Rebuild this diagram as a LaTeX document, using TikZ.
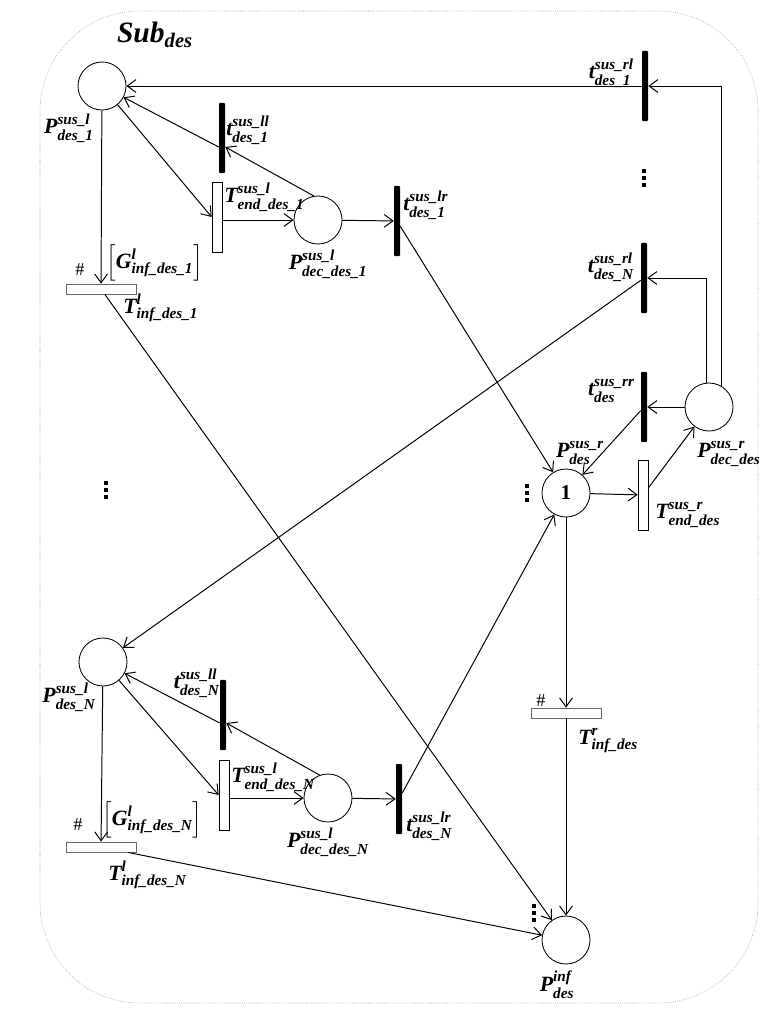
\documentclass[tikz,border=0pt]{standalone}
\usepackage{amsmath}
\usepackage{fontspec}
\setmainfont{Liberation Serif}
\usetikzlibrary{arrows.meta}

\tikzset{
  place/.style={circle,draw,line width=0.6pt,minimum size=1.2cm,inner sep=0pt},
  tbar/.style={fill=black,minimum width=0.15cm,minimum height=1.75cm,inner sep=0pt,rounded corners=0.6pt},
  tvbox/.style={draw,fill=white,line width=0.5pt,minimum width=0.25cm,minimum height=1.75cm,inner sep=0pt},
  thbox/.style={draw=black!60,fill=white,line width=0.6pt,minimum width=1.75cm,minimum height=0.25cm,inner sep=0pt},
  arc/.style={-{Straight Barb[length=2.2mm,width=3.2mm]},line width=0.7pt},
  lbl/.style={font=\fontsize{15.5}{18}\selectfont,inner sep=0pt},
  hashmark/.style={font=\fontsize{13}{15}\selectfont,inner sep=0pt},
  dotsmark/.style={inner sep=0pt,minimum size=0.4cm}
}
\newcommand{\bi}[1]{\text{\bfseries\itshape #1}}
\newcommand{\pnlab}[3]{$\bi{#1}^{\bi{#2}}_{\bi{#3}}$}

\begin{document}
\begin{tikzpicture}[x=0.025cm,y=-0.025cm]
    \useasboundingbox (0,0) rectangle (780,1020);

    % Frame
    \draw[black!45,densely dotted,line width=0.4pt,rounded corners=2.5cm] (40,11) rectangle (758,1003);
    \node[font=\fontsize{21}{24}\selectfont,inner sep=0pt] (title) at (155,35) {$\bi{Sub}_{\bi{des}}$};

    % Upper left branch
    \node[place] (pdes1) at (102,86) {};
    \node[tbar] (tll1) at (222,138) {};
    \node[tvbox] (tend1) at (217,217) {};
    \node[place] (pdec1) at (318,220) {};
    \node[tbar] (tlr1) at (397,221) {};
    \node[thbox] (tinf1) at (101,289) {};

    % Lower left branch
    \node[place] (pdesN) at (103,662) {};
    \node[tbar] (tllN) at (223,715) {};
    \node[tvbox] (tendN) at (224,795) {};
    \node[place] (pdecN) at (328,798) {};
    \node[tbar] (tlrN) at (399,799) {};
    \node[thbox] (tinfN) at (101,847) {};

    % Right branch
    \node[tbar] (trl1) at (645,86) {};
    \node[tbar] (trlN) at (644,278) {};
    \node[tbar] (trr) at (644,407) {};
    \node[place] (pdecr) at (709,407) {};
    \node[place,font=\fontsize{15}{18}\selectfont\bfseries] (pdesr) at (566,493) {1};
    \node[tvbox] (tendr) at (643,495) {};
    \node[thbox] (tinfr) at (566,713) {};
    \node[place] (pinf) at (566,940) {};

    % Labels
    \node[lbl] (lpdes1) at (69,128) {\pnlab{P}{sus\_l}{des\_1}};
    \node[lbl,anchor=west] (ltll1) at (226,130) {\pnlab{t}{sus\_ll}{des\_1}};
    \node[lbl,anchor=west] (ltend1) at (224,197) {\pnlab{T}{sus\_l}{end\_des\_1}};
    \node[lbl] (lpdec1) at (328,264) {\pnlab{P}{sus\_l}{dec\_des\_1}};
    \node[lbl,anchor=west] (ltlr1) at (403,205) {\pnlab{t}{sus\_lr}{des\_1}};
    \node[lbl,anchor=west] (lguard1) at (106,263) {$\left[\bi{G}^{\bi{l}}_{\bi{inf\_des\_1}}\right]$};
    \node[hashmark] (hash1) at (80,270) {\#};
    \node[lbl,anchor=west] (ltinf1) at (123,308) {\pnlab{T}{l}{inf\_des\_1}};

    \node[lbl] (lpdesN) at (69,697) {\pnlab{P}{sus\_l}{des\_N}};
    \node[lbl,anchor=east] (ltllN) at (220,683) {\pnlab{t}{sus\_ll}{des\_N}};
    \node[lbl,anchor=west] (ltendN) at (231,777) {\pnlab{T}{sus\_l}{end\_des\_N}};
    \node[lbl] (lpdecN) at (328,842) {\pnlab{P}{sus\_l}{dec\_des\_N}};
    \node[lbl,anchor=west] (ltlrN) at (406,826) {\pnlab{t}{sus\_lr}{des\_N}};
    \node[lbl,anchor=west] (lguardN) at (102,820) {$\left[\bi{G}^{\bi{l}}_{\bi{inf\_des\_N}}\right]$};
    \node[hashmark] (hashN) at (78,825) {\#};
    \node[lbl,anchor=west] (ltinfN) at (108,875) {\pnlab{T}{l}{inf\_des\_N}};

    \node[lbl,anchor=east] (ltrl1) at (634,73) {\pnlab{t}{sus\_rl}{des\_1}};
    \node[lbl,anchor=east] (ltrlN) at (634,267) {\pnlab{t}{sus\_rl}{des\_N}};
    \node[lbl,anchor=east] (ltrr) at (635,391) {\pnlab{t}{sus\_rr}{des}};
    \node[lbl] (lpdesr) at (580,453) {\pnlab{P}{sus\_r}{des}};
    \node[lbl,anchor=west] (lpdecr) at (697,454) {\pnlab{P}{sus\_r}{dec\_des}};
    \node[lbl,anchor=west] (ltendr) at (655,515) {\pnlab{T}{sus\_r}{end\_des}};
    \node[lbl,anchor=west] (ltinfr) at (578,741) {\pnlab{T}{r}{inf\_des}};
    \node[hashmark] (hashr) at (541,701) {\#};
    \node[lbl] (lpinf) at (557,985) {\pnlab{P}{inf}{des}};

    % Dots
    \node[dotsmark] (dots1) at (106,490) {};
    \node[dotsmark] (dots2) at (644,178) {};
    \node[dotsmark] (dots3) at (527,493) {};
    \node[dotsmark] (dots4) at (534,913) {};
    \foreach \n in {dots1,dots2,dots3,dots4}
        \foreach \d in {-7,0,7}
            \fill[shift={(\n)}] (-1.6,\d-1.6) rectangle ++(3.2,3.2);

    % Upper left arcs
    \draw[arc] (pdes1) -- (tend1.west);
    \draw[arc] (tend1.east |- pdec1) -- (pdec1);
    \draw[arc] (pdec1) -- (tlr1);
    \draw[arc] (pdec1.100) -- ([yshift=-0.225cm]tll1.east);
    \draw[arc] ([yshift=-0.225cm]tll1.west) -- (pdes1);
    \draw[arc] (pdes1) -- (tinf1);
    \draw[arc] (tinf1) -- (pinf);
    \draw[arc] (tlr1) -- (pdesr);

    % Lower left arcs
    \draw[arc] (pdesN) -- (tendN.west);
    \draw[arc] (tendN.east |- pdecN) -- (pdecN);
    \draw[arc] (pdecN) -- (tlrN);
    \draw[arc] (pdecN.110) -- ([yshift=-0.2cm]tllN.east);
    \draw[arc] ([yshift=-0.2cm]tllN.west) -- (pdesN);
    \draw[arc] (pdesN) -- (tinfN);
    \draw[arc] (tinfN) -- (pinf);
    \draw[arc] (tlrN) -- (pdesr);

    % Right arcs
    \draw[arc] (pdecr.60) |- (trl1);
    \draw[arc] (trl1) -- (pdes1);
    \draw[arc] (pdecr.97) |- (trlN);
    \draw[arc] (trlN) -- (pdesN);
    \draw[arc] (pdecr) -- (trr);
    \draw[arc] (trr) -- (pdesr);
    \draw[arc] (pdesr) -- (tendr);
    \draw[arc] (tendr) -- (pdecr);
    \draw[arc] (pdesr) -- (tinfr);
    \draw[arc] (tinfr) -- (pinf);

\end{tikzpicture}
\end{document}
